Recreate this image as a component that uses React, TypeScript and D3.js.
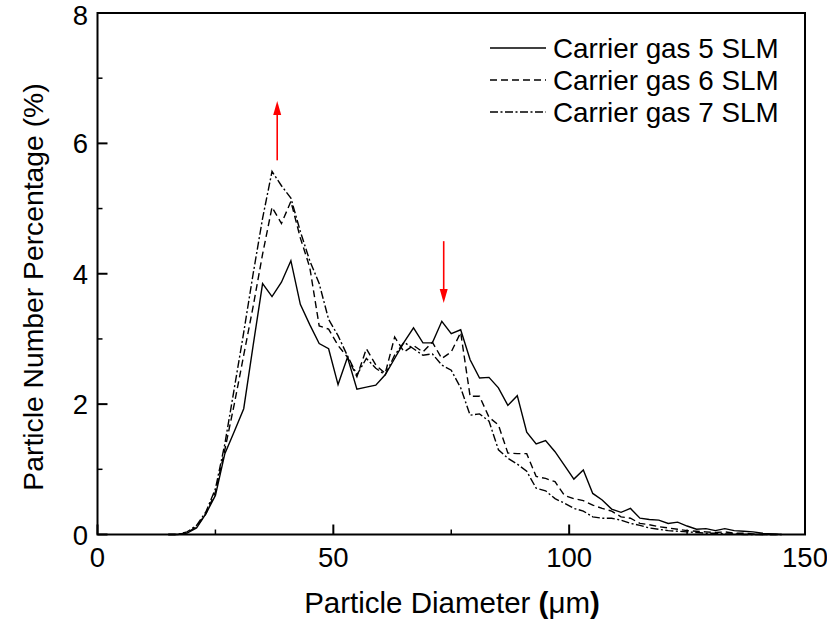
import React from "react";
import * as d3 from "d3";

const diameters = [15, 17, 19, 21, 23, 25, 27, 29, 31, 33, 35, 37, 39, 41, 43, 45, 47, 49, 51, 53, 55, 57, 59, 61, 63, 65, 67, 69, 71, 73, 75, 77, 79, 81, 83, 85, 87, 89, 91, 93, 95, 97, 99, 101, 103, 105, 107, 109, 111, 113, 115, 117, 119, 121, 123, 125, 127, 129, 131, 133, 135, 137, 139, 141, 143, 145];

const gas5 = [0, 0, 0.02, 0.1, 0.32, 0.6, 1.24, 1.58, 1.93, 2.9, 3.85, 3.65, 3.87, 4.2, 3.53, 3.22, 2.93, 2.85, 2.3, 2.72, 2.23, 2.26, 2.29, 2.45, 2.7, 2.95, 3.17, 2.94, 2.94, 3.27, 3.08, 3.14, 2.68, 2.4, 2.41, 2.25, 1.98, 2.13, 1.57, 1.39, 1.44, 1.27, 1.06, 0.85, 0.99, 0.63, 0.53, 0.39, 0.34, 0.4, 0.25, 0.23, 0.22, 0.17, 0.19, 0.13, 0.08, 0.09, 0.06, 0.09, 0.06, 0.05, 0.04, 0.02, 0.01, 0];

const gas6 = [0, 0, 0.03, 0.12, 0.32, 0.65, 1.3, 2.0, 2.75, 3.5, 4.3, 5.02, 4.77, 5.11, 4.55, 4.1, 3.2, 3.15, 2.9, 2.72, 2.42, 2.85, 2.6, 2.47, 3.03, 2.8, 2.9, 2.8, 2.95, 2.7, 2.8, 3.1, 2.12, 2.12, 1.8, 1.68, 1.25, 1.24, 1.24, 0.89, 0.86, 0.81, 0.6, 0.55, 0.52, 0.45, 0.4, 0.36, 0.27, 0.25, 0.17, 0.15, 0.12, 0.1, 0.08, 0.06, 0.05, 0.04, 0.03, 0.04, 0.02, 0.02, 0.01, 0, 0, 0];

const gas7 = [0, 0, 0.04, 0.14, 0.35, 0.7, 1.39, 2.24, 3.1, 4.0, 4.85, 5.57, 5.35, 5.16, 4.65, 4.2, 3.85, 3.3, 3.05, 2.74, 2.45, 2.7, 2.55, 2.45, 2.75, 2.95, 2.85, 2.75, 2.77, 2.6, 2.52, 2.25, 1.83, 1.85, 1.74, 1.3, 1.17, 1.08, 0.97, 0.71, 0.67, 0.55, 0.48, 0.4, 0.36, 0.27, 0.25, 0.25, 0.22, 0.17, 0.14, 0.1, 0.08, 0.06, 0.05, 0.04, 0.03, 0.02, 0.02, 0.01, 0.01, 0, 0, 0, 0, 0];

const seriesNames = ["Carrier gas 5 SLM", "Carrier gas 6 SLM", "Carrier gas 7 SLM"];
const seriesValues = [gas5, gas6, gas7];
const seriesDash = ["none", "7,4", "8,2.5,2,2.5"];

const xMajorTicks = [0, 50, 100, 150];
const xMinorTicks = [25, 75, 125];
const yMajorTicks = [0, 2, 4, 6, 8];
const yMinorTicks = [1, 3, 5, 7];

// arrows: [x, yStart, yTip]
const arrowX = [38.1, 73.4];
const arrowFrom = [5.74, 4.5];
const arrowTo = [6.65, 3.55];

const W = 827;
const H = 625;
const m = { left: 97.5, right: 805, top: 13, bottom: 534.5 };

export default function App() {
  const x = d3.scaleLinear().domain([0, 150]).range([m.left, m.right]);
  const y = d3.scaleLinear().domain([0, 8]).range([m.bottom, m.top]);
  const line = d3
    .line<number>()
    .x((_, i) => x(diameters[i]))
    .y((d) => y(d));

  const font = "'Liberation Sans', Arial, sans-serif";
  const legendY = [48, 80, 112];

  return (
    <svg
      width={W}
      height={H}
      style={{ position: "absolute", left: 0, top: 0, background: "#fff" }}
      fontFamily={font}
    >
      <rect x={0} y={0} width={W} height={H} fill="#fff" />
      {seriesValues.map((vals, si) => (
        <path
          key={si}
          d={line(vals) || ""}
          fill="none"
          stroke="#000"
          strokeWidth={1.4}
          strokeDasharray={seriesDash[si]}
          strokeLinejoin="miter"
        />
      ))}
      {/* frame */}
      <rect
        x={m.left}
        y={m.top}
        width={m.right - m.left}
        height={m.bottom - m.top}
        fill="none"
        stroke="#000"
        strokeWidth={2}
      />
      {xMajorTicks.map((t) => (
        <g key={"xm" + t}>
          <line x1={x(t)} x2={x(t)} y1={m.bottom} y2={m.bottom - 10} stroke="#000" strokeWidth={2} />
          <text x={x(t)} y={567} fontSize={27.5} textAnchor="middle">
            {t}
          </text>
        </g>
      ))}
      {xMinorTicks.map((t) => (
        <line key={"xn" + t} x1={x(t)} x2={x(t)} y1={m.bottom} y2={m.bottom - 5} stroke="#000" strokeWidth={1.5} />
      ))}
      {yMajorTicks.map((t) => (
        <g key={"ym" + t}>
          <line x1={m.left} x2={m.left + 10} y1={y(t)} y2={y(t)} stroke="#000" strokeWidth={2} />
          <text x={88} y={Math.max(y(t) + 10, 25)} fontSize={27.5} textAnchor="end">
            {t}
          </text>
        </g>
      ))}
      {yMinorTicks.map((t) => (
        <line key={"yn" + t} x1={m.left} x2={m.left + 5} y1={y(t)} y2={y(t)} stroke="#000" strokeWidth={1.5} />
      ))}
      {/* axis titles */}
      <text x={452} y={613} fontSize={29.5} textAnchor="middle">
        Particle Diameter <tspan fontWeight="bold">(</tspan>μm<tspan fontWeight="bold">)</tspan>
      </text>
      <text
        transform={`translate(43, 287) rotate(-90)`}
        fontSize={28.3}
        textAnchor="middle"
      >
        Particle Number Percentage (%)
      </text>
      {/* legend */}
      {seriesNames.map((name, i) => (
        <g key={name}>
          <line x1={490} x2={546} y1={legendY[i]} y2={legendY[i]} stroke="#000" strokeWidth={1.4} strokeDasharray={seriesDash[i]} />
          <text x={553} y={legendY[i] + 10} fontSize={27.8}>
            {name}
          </text>
        </g>
      ))}
      {/* red arrows */}
      {arrowX.map((ax, i) => {
        const x0 = x(ax);
        const y0 = y(arrowFrom[i]);
        const y1 = y(arrowTo[i]);
        const dir = y1 < y0 ? -1 : 1;
        const headLen = 14;
        const yBase = y1 - dir * headLen;
        return (
          <g key={"a" + i}>
            <line x1={x0} x2={x0} y1={y0} y2={yBase} stroke="#ff0000" strokeWidth={1.6} />
            <path d={`M${x0 - 4},${yBase} L${x0 + 4},${yBase} L${x0},${y1} Z`} fill="#ff0000" />
          </g>
        );
      })}
    </svg>
  );
}
